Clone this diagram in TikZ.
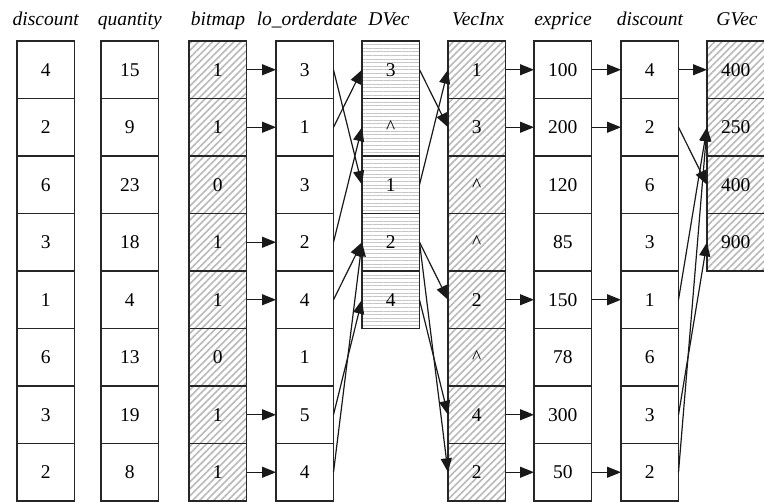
\documentclass[tikz,border=0pt]{standalone}
\usepackage{fontspec}
\setmainfont{Liberation Serif}
\usetikzlibrary{arrows.meta,patterns.meta}
\tikzset{
  cell/.style={draw=black!85, line width=1.2pt, minimum width=57.5pt, minimum height=57.5pt,
    inner sep=0pt, outer sep=0pt, text height=13.5pt, text depth=0pt,
    font=\fontsize{19.5}{22}\selectfont, anchor=north west},
  plain/.style={},
  hatch/.style={pattern={Lines[angle=45,distance=5pt,line width=1.6pt]}, pattern color=gray!55},
  hlines/.style={pattern={Lines[angle=0,distance=3.6pt,line width=1pt]}, pattern color=gray!45},
  hdr/.style={font=\itshape\fontsize{19.5}{22}\selectfont, anchor=base, inner sep=0pt},
  arr/.style={-{Triangle[length=14pt,width=11pt]}, line width=1.2pt, black!90},
}
\newcommand\mkcol[4]{%
  \foreach \v [count=\i] in {#4} {\node[cell,#3] (#1\i) at (#2, {41+57.5*(\i-1)}) {\v};}}
\begin{document}
\begin{tikzpicture}[x=1pt,y=-1pt]
\useasboundingbox (0,0) rectangle (764,502);
% columns
\mkcol{A}{17}{plain}{4,2,6,3,1,6,3,2}
\mkcol{B}{101}{plain}{15,9,23,18,4,13,19,8}
\mkcol{C}{189}{hatch}{1,1,0,1,1,0,1,1}
\mkcol{D}{276}{plain}{3,1,3,2,4,1,5,4}
\mkcol{E}{362}{hlines}{3,\textasciicircum,1,2,4}
\mkcol{F}{448}{hatch}{1,3,\textasciicircum,\textasciicircum,2,\textasciicircum,4,2}
\mkcol{G}{534}{plain}{100,200,120,85,150,78,300,50}
\mkcol{H}{621}{plain}{4,2,6,3,1,6,3,2}
\mkcol{K}{707}{hatch}{400,250,400,900}
% headers
\node[hdr] (h1) at (45.75,26) {discount};
\node[hdr] (h2) at (129.75,26) {quantity};
\node[hdr] (h3) at (218,26) {bitmap};
\node[hdr] (h4) at (307,26) {lo\_orderdate};
\node[hdr] (h5) at (389,26) {DVec};
\node[hdr] (h6) at (478,26) {VecInx};
\node[hdr] (h7) at (563,26) {exprice};
\node[hdr] (h8) at (650,26) {discount};
\node[hdr] (h9) at (737,26) {GVec};
% bitmap -> lo_orderdate
\foreach \r in {1,2,4,5,7,8} {\draw[arr] (C\r.east) -- (D\r.west);}
% lo_orderdate -> DVec
\draw[arr] (D1.east) -- (E3.west);
\draw[arr] (D2.east) -- (E1.west);
\draw[arr] (D4.east) -- (E2.west);
\draw[arr] (D5.east) -- (E4.west);
\draw[arr] (D7.east) -- (E5.west);
\draw[arr] (D8.east) -- (E4.west);
% DVec -> VecInx
\draw[arr] (E1.east) -- (F2.west);
\draw[arr] (E3.east) -- (F1.west);
\draw[arr] (E4.east) -- (F5.west);
\draw[arr] (E4.east) -- (F8.west);
\draw[arr] (E5.east) -- (F7.west);
% VecInx -> exprice
\foreach \r in {1,2,5,7,8} {\draw[arr] (F\r.east) -- (G\r.west);}
% exprice -> discount
\foreach \r in {1,2,5,8} {\draw[arr] (G\r.east) -- (H\r.west);}
% discount -> GVec
\draw[arr] (H1.east) -- (K1.west);
\draw[arr] (H2.east) -- (K3.west);
\draw[arr] (H5.east) -- (K2.west);
\draw[arr] (H7.east) -- (K4.west);
\draw[arr] (H8.east) -- (K2.west);
\end{tikzpicture}
\end{document}
